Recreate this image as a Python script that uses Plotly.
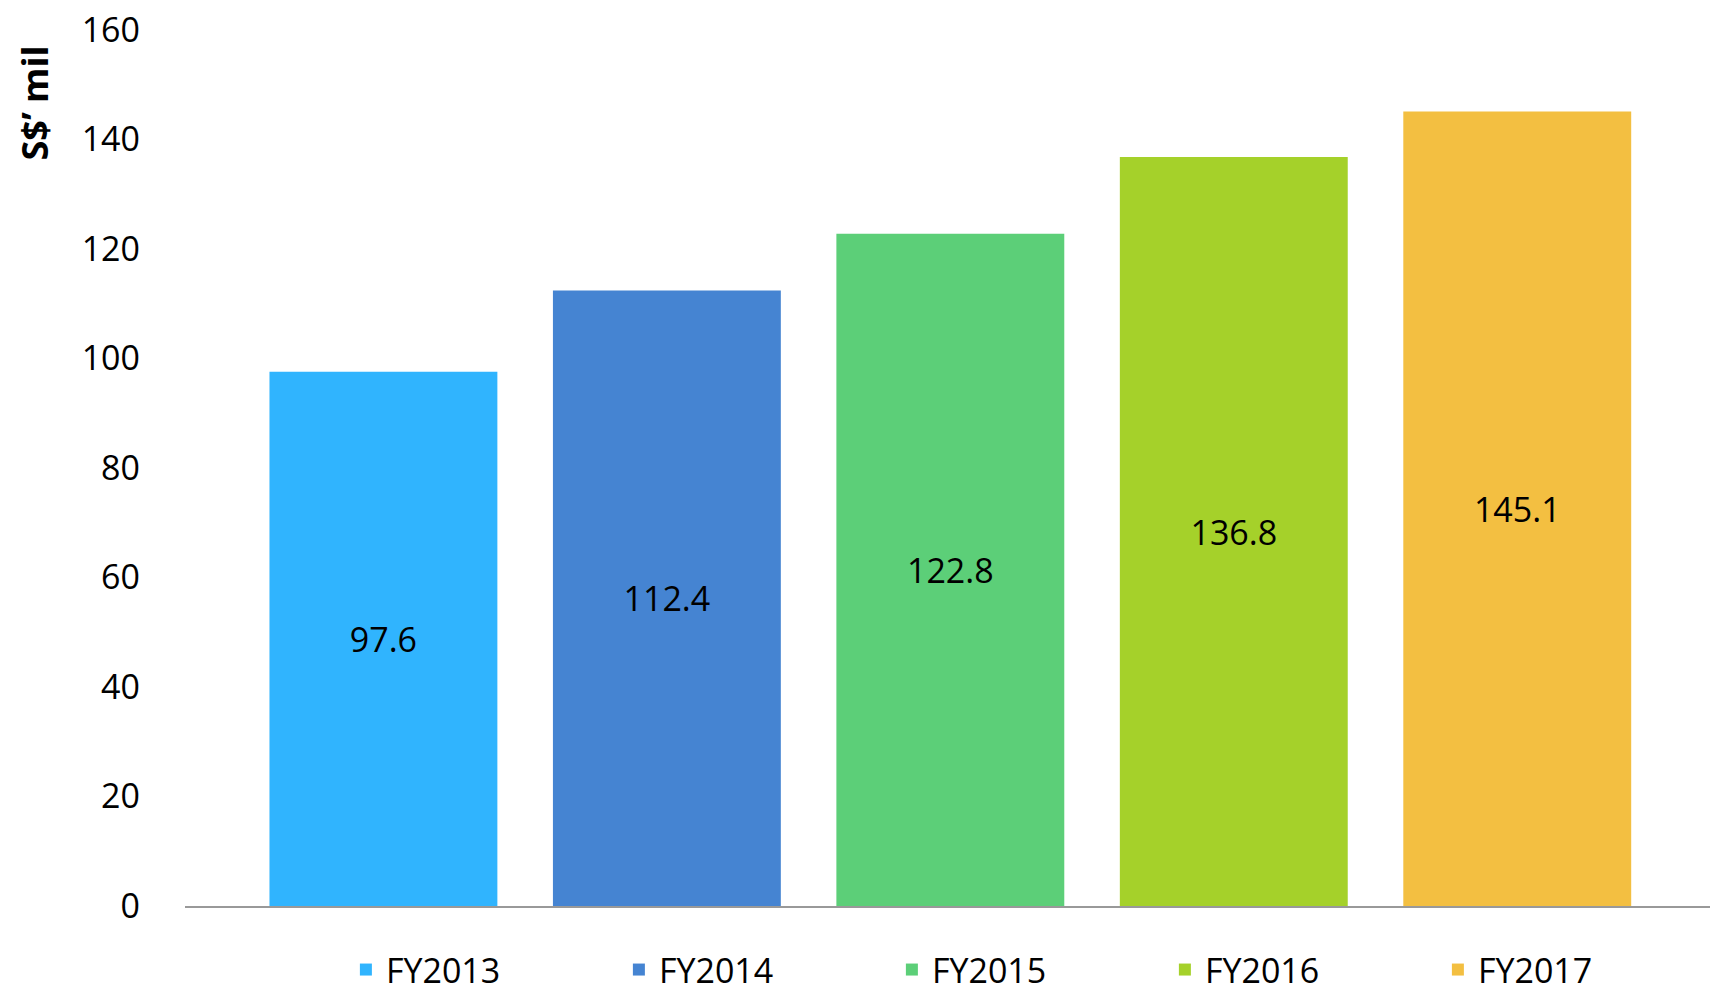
import plotly.graph_objects as go

categories = ["FY2013", "FY2014", "FY2015", "FY2016", "FY2017"]
values = [97.6, 112.4, 122.8, 136.8, 145.1]
colors = ["#30B4FE", "#4584D2", "#5CCF78", "#A5D12A", "#F3BF41"]
tick_vals = [0, 20, 40, 60, 80, 100, 120, 140, 160]
y_title = "S$’ mil"

FONT = "Open Sans"

fig = go.Figure()
for cat, val, col in zip(categories, values, colors):
    fig.add_trace(go.Bar(
        x=[cat], y=[val], name=cat,
        marker=dict(color=col, line=dict(width=0)),
        text=[f"{val:.1f}"], textposition="inside", insidetextanchor="middle",
        textfont=dict(family=FONT, size=34, color="black"),
        constraintext="none",
    ))

fig.update_layout(
    width=1710, height=996,
    margin=dict(l=185, r=0, t=30, b=90, autoexpand=False),
    paper_bgcolor="white", plot_bgcolor="white",
    barmode="overlay", bargap=0.196,
    font=dict(family=FONT, color="black"),
    showlegend=True,
    legend=dict(
        orientation="h", x=0.1055, xanchor="left", y=-0.073, yanchor="middle",
        font=dict(family=FONT, size=34, color="black"),
        entrywidth=228, entrywidthmode="pixels",
        traceorder="normal",
    ),
    xaxis=dict(
        range=[-0.70, 4.68], showticklabels=False, ticks="",
        showline=True, linecolor="#999999", linewidth=2,
        showgrid=False, zeroline=False,
    ),
    yaxis=dict(
        range=[0, 160], tickvals=tick_vals, showgrid=False, zeroline=False,
        showline=False, ticks="", ticklabelstandoff=44,
        tickfont=dict(family=FONT, size=34, color="black"),
    ),
    annotations=[dict(
        text=f"<b>{y_title}</b>", textangle=-90, xref="paper", yref="paper",
        x=-0.0985, y=0.917, xanchor="center", yanchor="middle", showarrow=False,
        font=dict(family=FONT, size=36, color="black"),
    )],
)

fig.write_html("out.html")
